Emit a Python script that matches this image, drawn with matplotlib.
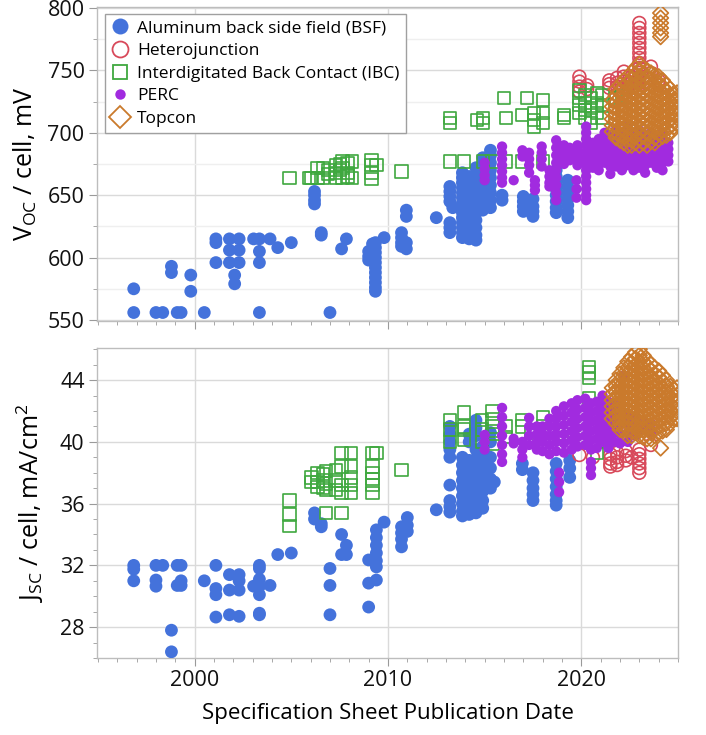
import numpy as np
import matplotlib
matplotlib.use("Agg")
import matplotlib.pyplot as plt
from matplotlib.lines import Line2D
from matplotlib.ticker import MultipleLocator, FixedLocator

plt.rcParams['font.family'] = ['Open Sans', 'DejaVu Sans']
plt.rcParams['mathtext.fontset'] = 'custom'
plt.rcParams['mathtext.rm'] = 'Open Sans'
plt.rcParams['mathtext.default'] = 'regular'

# (publication date, [values...]) columns, one list per technology and panel
bsf_voc = [
    (1996.85, [556, 575]), (1998.0, [556]), (1998.35, [556]), (1998.8, [593, 588]),
    (1999.1, [556]), (1999.3, [556]), (1999.8, [586, 573]), (2000.5, [556]),
    (2001.1, [615, 612, 596]), (2001.8, [615, 606, 596]), (2002.07, [586, 579]),
    (2002.3, [615, 606, 596]), (2003.05, [615]), (2003.35, [615, 605, 596, 556]),
    (2003.9, [615]), (2004.3, [608]), (2005.0, [612]),
    (2006.2, [653, 650, 646, 643]), (2006.55, [620, 618]), (2007.0, [556]),
    (2007.6, [607]), (2007.85, [615]), (2009.0, [605, 601, 598]),
    (2009.2, [611, 607, 603]),
    (2009.35, [612, 608, 604, 600, 596, 592, 588, 584, 580, 576, 573]),
    (2009.8, [616]), (2010.7, [620, 616, 612, 609]), (2010.95, [638, 633, 612, 607]),
    (2012.5, [632]), (2013.2, [657, 653, 649, 645, 628, 624, 620]), (2013.35, [640]),
    (2013.85, [668, 664, 660, 656, 652, 648, 644, 640, 636, 632, 628, 624, 620, 616]),
    (2014.2, [665, 660, 655, 650, 645, 640, 635, 630, 625, 620, 615]),
    (2014.55, [672, 666, 660, 654, 648, 642, 636, 630, 624, 618, 614]),
    (2014.9, [680, 674, 668, 662, 656, 650, 644, 638]),
    (2015.3, [686, 682, 676, 670, 664, 658, 652, 646, 640]),
    (2015.9, [650, 646]), (2017.0, [649, 645, 641, 637]), (2017.5, [647, 641, 637, 633]),
    (2018.7, [670, 665, 660, 655, 650, 645, 640, 636]),
    (2019.3, [662, 657, 652, 647, 642, 637, 632]),
]
hjt_voc = [
    (2019.9, [745, 741, 737, 733]), (2020.3, [738, 735]), (2021.45, [742, 739, 736]),
    (2021.85, [744, 740, 737]), (2022.2, [749, 745, 741, 737]), (2022.6, [745, 740, 736]),
    (2023.0, [788, 784, 780, 776, 772, 768, 764, 760, 756, 752, 748, 744, 740, 736]),
    (2023.3, [745, 740]), (2023.6, [753, 748, 743]), (2024.0, [742, 738]),
]
ibc_voc = [
    (2004.9, [664]), (2005.9, [664]), (2006.05, [664]), (2006.35, [664, 672]),
    (2006.65, [672, 664]), (2006.9, [667, 670]), (2007.3, [674, 668, 664]),
    (2007.5, [675, 670]), (2007.65, [677, 672, 664]), (2007.9, [676, 668, 665]),
    (2008.15, [677, 664]), (2009.15, [678, 674, 668, 663]), (2009.4, [674]),
    (2010.7, [669]), (2013.2, [712, 708, 677]), (2013.95, [677]), (2014.6, [710]),
    (2014.9, [712, 708, 677]), (2015.4, [677]), (2016.0, [728]), (2016.1, [712, 677]),
    (2016.95, [714, 677]), (2017.2, [728]), (2017.55, [716, 710, 705]),
    (2018.0, [726, 716, 708, 677]), (2019.1, [714, 712]),
    (2019.9, [734, 728, 722, 716]), (2020.2, [730, 724, 718, 712]),
    (2020.5, [728, 720, 712, 708]), (2020.8, [732, 724, 716]),
    (2021.1, [730, 722, 712]), (2021.8, [728]), (2022.1, [729]),
]
perc_voc = [
    (2015.0, [676, 671, 666, 662]), (2015.9, [689, 684, 679, 674, 669, 664, 660]),
    (2016.5, [662]), (2016.95, [686, 681]), (2017.3, [684, 679, 674, 668]),
    (2017.6, [662, 658, 654]), (2017.95, [689, 684, 679, 673]),
    (2018.35, [670, 665, 660, 657]),
    (2018.7, [694, 688, 682, 676, 670, 664, 658, 652, 646]),
    (2019.1, [690, 685, 680, 675]), (2019.4, [688, 683, 678]), (2019.75, [662, 655, 648]),
    (2019.8, [690, 686, 682, 678, 674]),
    (2020.25, [705, 700, 695, 690, 685, 680, 675, 670, 665, 660, 655, 650, 646]),
    (2020.6, [692, 687, 682, 677, 672]), (2020.9, [695, 690, 685, 680, 675, 670]),
    (2021.2, [700, 694, 688, 682, 676]), (2021.5, [697, 691, 685, 679, 673, 667]),
    (2021.8, [703, 697, 691, 685, 679, 673]), (2022.1, [700, 694, 688, 682, 676, 670]),
    (2022.4, [705, 698, 692, 686, 680, 674]), (2022.7, [700, 694, 688, 682, 676, 670]),
    (2023.0, [702, 696, 690, 684, 678, 672]), (2023.3, [698, 692, 686, 680, 674, 668]),
    (2023.6, [700, 694, 688, 682, 676]), (2023.9, [696, 690, 684, 678, 672]),
    (2024.2, [700, 694, 688, 682, 676, 670]), (2024.5, [692, 687, 682, 677]),
]
topcon_voc = [
    (2021.6, [726, 721, 716, 711, 706, 701]),
    (2021.8, [735, 730, 725, 720, 715, 710, 705, 700, 696]),
    (2022.0, [738, 733, 728, 723, 718, 713, 708, 703, 698, 694]),
    (2022.2, [742, 737, 732, 727, 722, 717, 712, 707, 702, 697, 692]),
    (2022.4, [745, 740, 735, 730, 725, 720, 715, 710, 705, 700, 695, 690]),
    (2022.6, [748, 743, 738, 733, 728, 723, 718, 713, 708, 703, 698, 694, 690]),
    (2022.8, [752, 747, 742, 737, 732, 727, 722, 717, 712, 707, 702, 697, 692]),
    (2023.0, [755, 750, 745, 740, 735, 730, 725, 720, 715, 710, 705, 700, 695, 690]),
    (2023.2, [752, 747, 742, 737, 732, 727, 722, 717, 712, 707, 702, 697, 692]),
    (2023.4, [750, 745, 740, 735, 730, 725, 720, 715, 710, 705, 700, 695, 690]),
    (2023.6, [748, 743, 738, 733, 728, 723, 718, 713, 708, 703, 698, 693]),
    (2023.8, [746, 741, 736, 731, 726, 721, 716, 711, 706, 701, 696, 692]),
    (2024.0, [745, 740, 735, 730, 725, 720, 715, 710, 705, 700, 695]),
    (2024.1, [796, 792, 788, 784, 780, 777]),
    (2024.2, [742, 737, 732, 727, 722, 717, 712, 707, 702, 697]),
    (2024.4, [738, 733, 728, 723, 718, 713, 708, 703, 698]),
    (2024.6, [735, 730, 725, 720, 715, 710, 705, 700]),
    (2024.8, [730, 725, 720, 715, 710, 705]),
    (2024.95, [732, 726, 720, 714, 708]),
]

bsf_jsc = [
    (1996.85, [32.0, 31.75, 31.0]), (1998.0, [32.0, 31.05, 30.65]), (1998.35, [32.0]),
    (1998.8, [27.8, 26.4]), (1999.1, [32.0, 30.7]), (1999.3, [32.0, 31.0, 30.7]),
    (2000.5, [31.0]), (2001.1, [32.0, 30.5, 30.1, 28.65]), (2001.8, [31.4, 30.4, 28.8]),
    (2002.3, [31.4, 31.0, 30.4, 28.7]), (2003.05, [30.65]),
    (2003.35, [32.0, 31.8, 31.1, 30.65, 30.1, 28.9, 28.8]), (2003.9, [30.7]),
    (2004.3, [32.7]), (2005.0, [32.8]), (2006.2, [35.4, 35.0]), (2006.55, [34.7, 34.5]),
    (2007.0, [31.8, 30.7, 28.8]), (2007.6, [34.0, 32.7]), (2007.85, [33.3, 32.7]),
    (2009.0, [32.35, 30.85, 29.3]), (2009.4, [34.3, 33.8, 33.3, 32.8, 32.3, 31.9, 31.05]),
    (2009.8, [34.8]), (2010.7, [34.5, 34.1, 33.7, 33.2]), (2011.0, [35.1, 34.6, 34.2]),
    (2012.5, [35.6]), (2013.2, [41.0, 40.5, 40.0, 39.5, 39.0, 37.2, 36.2, 35.8, 35.45]),
    (2013.85, [39.0, 38.5, 38.0, 37.5, 37.0, 36.5, 36.0, 35.5, 35.2]),
    (2014.2, [40.5, 40.0, 38.8, 38.2, 37.6, 37.0, 36.4, 35.8, 35.3]),
    (2014.55, [41.4, 40.9, 40.4, 39.5, 38.9, 38.3, 37.7, 37.1, 36.5, 35.9, 35.4]),
    (2014.9, [39.7, 39.2, 38.6, 38.0, 37.4, 36.8, 36.2, 35.7]),
    (2015.3, [40.6, 40.0, 39.0, 38.3, 37.6, 37.0]), (2015.5, [37.4]),
    (2016.95, [38.6, 38.2]), (2017.5, [38.0, 37.5, 37.0, 36.6, 36.2]),
    (2018.7, [38.6, 38.1, 37.6, 37.1, 36.6, 36.2, 35.9]), (2019.4, [38.8, 38.3, 37.7]),
]
hjt_jsc = [
    (2019.9, [39.15]), (2020.6, [39.0]), (2021.5, [39.2, 38.9, 38.6, 38.4]),
    (2021.85, [39.3, 39.0, 38.7, 38.5]), (2022.3, [39.4, 39.1, 38.8]), (2022.6, [39.0]),
    (2023.0, [39.5, 39.2, 38.9, 38.6, 38.3, 38.0]), (2023.6, [39.8]),
]
ibc_jsc = [
    (2004.9, [36.2, 35.3, 34.55]), (2006.05, [37.7, 37.4]), (2006.35, [38.0, 37.4, 37.1]),
    (2006.65, [37.9, 37.5, 37.0]), (2006.8, [38.1, 37.3, 36.9, 35.4]),
    (2007.3, [38.2, 37.5, 36.9]), (2007.6, [39.3, 38.4, 37.2, 36.7, 35.4]),
    (2008.1, [39.3, 38.4, 37.7, 37.2, 36.7]), (2009.2, [39.3, 38.4, 38.0, 37.6, 37.2, 36.7]),
    (2009.4, [39.3]), (2010.7, [38.2]), (2013.2, [41.4, 40.8, 40.0]),
    (2013.95, [41.9, 41.0, 40.8, 40.1]), (2014.85, [41.4, 40.8, 40.0]),
    (2015.4, [42.0, 41.5, 41.0, 40.5, 39.9]), (2016.1, [41.0, 40.3]),
    (2016.95, [41.4, 41.0]), (2017.4, [40.6, 40.2]), (2018.0, [41.6, 41.0]),
    (2019.0, [40.5]), (2020.4, [44.85, 44.5, 44.15, 42.85]), (2020.8, [39.3]),
    (2021.2, [40.0]),
]
perc_jsc = [
    (2015.0, [40.45, 40.0, 39.5]), (2015.9, [42.2, 41.6, 41.0, 40.4, 39.8, 39.2, 38.7]),
    (2016.5, [39.9, 40.2]), (2016.95, [40.0, 39.5, 39.0]), (2017.3, [41.55, 41.0, 40.4, 39.8]),
    (2017.7, [41.0, 40.5, 40.0, 39.5]), (2018.0, [41.0, 40.5, 40.0, 39.4]),
    (2018.35, [41.5, 41.0, 40.4, 39.8, 39.2]), (2018.7, [42.0, 41.5, 41.0, 40.5, 40.0, 39.4]),
    (2018.85, [38.0, 37.4, 36.75]), (2019.1, [42.3, 41.7, 41.1, 40.5, 39.9, 39.3]),
    (2019.5, [42.5, 41.9, 41.3, 40.7, 40.1, 39.5]), (2019.8, [42.7, 42.1, 41.5, 40.9, 40.3, 39.7]),
    (2020.2, [42.8, 42.2, 41.6, 41.0, 40.4, 39.8]),
    (2020.5, [42.5, 41.9, 41.3, 40.7, 40.1, 39.5, 38.7, 38.3, 37.85]),
    (2020.8, [42.6, 42.0, 41.4, 40.8, 40.2, 39.6]), (2021.1, [43.0, 42.4, 41.8, 41.2, 40.6, 40.0]),
    (2021.4, [42.6, 42.0, 41.4, 40.8, 40.2, 39.6]), (2021.7, [42.4, 41.8, 41.2, 40.6, 40.0]),
    (2022.0, [42.3, 41.7, 41.1, 40.5, 39.9]), (2022.2, [44.3]),
    (2022.4, [41.8, 41.2, 40.6, 40.0]), (2022.8, [41.6, 41.0, 40.4]),
    (2023.2, [41.4, 40.8]), (2023.6, [41.2, 40.6]),
]
topcon_jsc = [
    (2021.6, [43.5, 43.1, 42.7, 42.3, 41.9, 41.5]),
    (2021.8, [44.0, 43.6, 43.2, 42.8, 42.4, 42.0, 41.6, 41.2]),
    (2022.0, [44.4, 44.0, 43.6, 43.2, 42.8, 42.4, 42.0, 41.6, 41.2, 40.8]),
    (2022.2, [44.8, 44.4, 44.0, 43.6, 43.2, 42.8, 42.4, 42.0, 41.6, 41.2, 40.8]),
    (2022.4, [45.2, 44.8, 44.4, 44.0, 43.6, 43.2, 42.8, 42.4, 42.0, 41.6, 41.2, 40.8, 40.4]),
    (2022.6, [45.5, 45.1, 44.7, 44.3, 43.9, 43.5, 43.1, 42.7, 42.3, 41.9, 41.5, 41.1, 40.7,
              40.4]),
    (2022.8, [45.8, 45.4, 45.0, 44.6, 44.2, 43.8, 43.4, 43.0, 42.6, 42.2, 41.8, 41.4, 41.0,
              40.6]),
    (2023.0, [46.0, 45.6, 45.2, 44.8, 44.4, 44.0, 43.6, 43.2, 42.8, 42.4, 42.0, 41.6, 41.2,
              40.8, 40.4]),
    (2023.2, [45.6, 45.2, 44.8, 44.4, 44.0, 43.6, 43.2, 42.8, 42.4, 42.0, 41.6, 41.2, 40.8,
              40.3]),
    (2023.4, [45.3, 44.9, 44.5, 44.1, 43.7, 43.3, 42.9, 42.5, 42.1, 41.7, 41.3, 40.9, 40.5,
              40.2]),
    (2023.6, [45.0, 44.6, 44.2, 43.8, 43.4, 43.0, 42.6, 42.2, 41.8, 41.4, 41.0, 40.6, 40.2]),
    (2023.8, [44.8, 44.4, 44.0, 43.6, 43.2, 42.8, 42.4, 42.0, 41.6, 41.2, 40.8, 40.4]),
    (2024.0, [44.6, 44.2, 43.8, 43.4, 43.0, 42.6, 42.2, 41.8, 41.4, 41.0, 40.6]),
    (2024.1, [39.6]),
    (2024.2, [44.3, 43.9, 43.5, 43.1, 42.7, 42.3, 41.9, 41.5, 41.1, 40.7]),
    (2024.4, [44.0, 43.6, 43.2, 42.8, 42.4, 42.0, 41.6, 41.2, 40.8]),
    (2024.6, [43.6, 43.2, 42.8, 42.4, 42.0, 41.6, 41.2]),
    (2024.8, [43.4, 43.0, 42.6, 42.2, 41.8, 41.5]),
    (2024.95, [43.5, 43.0, 42.5, 42.0, 41.5]),
]

labels = ["Aluminum back side field (BSF)", "Heterojunction",
          "Interdigitated Back Contact (IBC)", "PERC", "Topcon"]
colors = ["#4472DB", "#D8495A", "#3FA83F", "#A12BDF", "#CA7A2C"]


def flat(cols):
    xs = [d for d, vals in cols for _ in vals]
    ys = [v for _, vals in cols for v in vals]
    return np.array(xs), np.array(ys)


def draw(ax, series):
    bsf, hjt, ibc, perc, topcon = [flat(s) for s in series]
    ax.scatter(*bsf, s=85, color=colors[0], edgecolors='none', zorder=3)
    ax.scatter(*hjt, s=85, facecolors='none', edgecolors=colors[1], linewidths=1.2, zorder=3)
    ax.scatter(*ibc, s=78, marker='s', facecolors='none', edgecolors=colors[2],
               linewidths=1.2, zorder=3)
    ax.scatter(*perc, s=55, color=colors[3], edgecolors='none', zorder=3)
    ax.scatter(*topcon, s=62, marker='D', facecolors='none', edgecolors=colors[4],
               linewidths=1.25, zorder=3)


def style(ax):
    ax.set_xlim(1994.95, 2025.0)
    ax.xaxis.set_major_locator(FixedLocator([2000, 2010, 2020]))
    ax.xaxis.set_minor_locator(MultipleLocator(1))
    ax.grid(which='major', color='#DADADA', linewidth=1.0, zorder=0)
    ax.set_axisbelow(True)
    for sp in ax.spines.values():
        sp.set_color('#BDBDBD')
        sp.set_linewidth(1.0)
    ax.tick_params(which='major', length=6, color='#9A9A9A', labelsize=15.5,
                   labelcolor='#111111', pad=3)
    ax.tick_params(which='minor', length=3, color='#9A9A9A')


fig = plt.figure(figsize=(7.06, 7.35), dpi=100)
ax1 = fig.add_axes([97 / 706, 1 - 321 / 735, 581 / 706, 314 / 735])
ax2 = fig.add_axes([97 / 706, 1 - 658 / 735, 581 / 706, 310 / 735])

draw(ax1, [bsf_voc, hjt_voc, ibc_voc, perc_voc, topcon_voc])
draw(ax2, [bsf_jsc, hjt_jsc, ibc_jsc, perc_jsc, topcon_jsc])

style(ax1)
ax1.set_ylim(549.2, 800.8)
ax1.yaxis.set_major_locator(MultipleLocator(50))
ax1.yaxis.set_minor_locator(MultipleLocator(25))
ax1.grid(which='minor', axis='y', color='#EFEFEF', linewidth=1.0, zorder=0)
ax1.tick_params(axis='x', which='both', labelbottom=False)
ax1.set_ylabel("V$_{OC}$ / cell, mV", fontsize=18, labelpad=6)

style(ax2)
ax2.set_ylim(26.0, 46.08)
ax2.yaxis.set_major_locator(MultipleLocator(4))
ax2.yaxis.set_minor_locator(MultipleLocator(1))
ax2.set_ylabel("J$_{SC}$ / cell, mA/cm$^2$", fontsize=18, labelpad=10)
ax2.set_xlabel("Specification Sheet Publication Date", fontsize=16, labelpad=8)

handles = [
    Line2D([], [], ls='none', marker='o', ms=11.5, color=colors[0], mec='none'),
    Line2D([], [], ls='none', marker='o', ms=11.5, mfc='none', mec=colors[1], mew=1.3),
    Line2D([], [], ls='none', marker='s', ms=10.5, mfc='none', mec=colors[2], mew=1.3),
    Line2D([], [], ls='none', marker='o', ms=7.5, color=colors[3], mec='none'),
    Line2D([], [], ls='none', marker='D', ms=11.5, mfc='none', mec=colors[4], mew=1.3),
]
leg = ax1.legend(handles, labels, loc='upper left', bbox_to_anchor=(0.0138, 0.978),
                 borderaxespad=0, fontsize=12.5, frameon=True, fancybox=False,
                 edgecolor='#A0A0A0', framealpha=1, handlelength=1.0,
                 handletextpad=0.5, labelspacing=0.38, borderpad=0.35)
leg.get_frame().set_linewidth(1.0)
leg.set_zorder(5)

fig.savefig("out.png", dpi=100)
